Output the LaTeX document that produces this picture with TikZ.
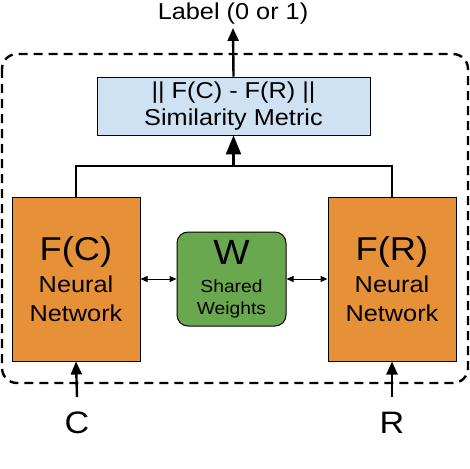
\documentclass[tikz,border=0pt]{standalone}
\usepackage{fontspec}
\setmainfont[FakeStretch=1.1]{Liberation Sans}
\usepackage{tikz}
\usetikzlibrary{arrows.meta}
\definecolor{nnorange}{HTML}{E69138}
\definecolor{wgreen}{HTML}{6AA84F}
\definecolor{metblue}{HTML}{CFE2F3}

\begin{document}
\begin{tikzpicture}[x=1pt,y=-1pt,
  netbox/.style={draw=black,line width=1pt,fill=nnorange,minimum width=128pt,minimum height=164pt,
    align=center,inner sep=0pt,font=\fontsize{23}{29}\selectfont},
  wbox/.style={draw=black,line width=1pt,fill=wgreen,rounded corners=11pt,minimum width=109pt,
    minimum height=94pt,align=center,inner sep=0pt,font=\fontsize{17.5}{22}\selectfont},
  metbox/.style={draw=black,line width=0.9pt,fill=metblue,minimum width=273pt,minimum height=58pt,
    align=center,inner sep=0pt,font=\fontsize{23}{27}\selectfont},
  iotext/.style={anchor=base,inner sep=0pt},
  flow/.style={line width=2.4pt,-{Triangle[length=13pt,width=11pt]}},
  share/.style={line width=1pt,{Triangle[length=7pt,width=6pt]}-{Triangle[length=7pt,width=6pt]}}]
\useasboundingbox (0,0) rectangle (470,468);
% siamese frame
\draw[line width=2.4pt,dash pattern=on 9pt off 6pt,rounded corners=15pt] (2,54) rectangle (468,383);
% boxes
\node[metbox] (metric) at (233.5,106) {|| F(C) - F(R) ||\\ Similarity Metric};
\node[netbox] (fc) at (76,279) {{\fontsize{33}{33}\selectfont F(C)}\\[3pt] Neural\\ Network};
\node[netbox] (fr) at (392,279) {{\fontsize{33}{33}\selectfont F(R)}\\[3pt] Neural\\ Network};
\node[wbox] (w) at (231.5,279) {{\fontsize{35}{35}\selectfont W}\\[6pt] Shared\\ Weights};
% texts
\node[iotext,font=\fontsize{23}{26}\selectfont] (label) at (233,20) {Label (0 or 1)};
\node[iotext,font=\fontsize{31}{36}\selectfont] (inC) at (77,433) {C};
\node[iotext,font=\fontsize{31}{36}\selectfont] (inR) at (392,433) {R};
% connectors
\coordinate (junc) at (233.5,166);
\draw[line width=2.4pt] (fc.north) |- (junc) -| (fr.north);
\draw[line width=2.4pt,-{Triangle[length=19pt,width=15pt]}] (junc) -- (metric.south);
\draw[flow] (metric.north) -- ([yshift=-3pt]label.south);
\draw[flow] ([yshift=14pt]inC.north) -- (fc.south);
\draw[flow] ([yshift=14pt]inR.north) -- (fr.south);
\draw[share] (fc.east) -- (w.west);
\draw[share] (w.east) -- (fr.west);
\end{tikzpicture}
\end{document}
